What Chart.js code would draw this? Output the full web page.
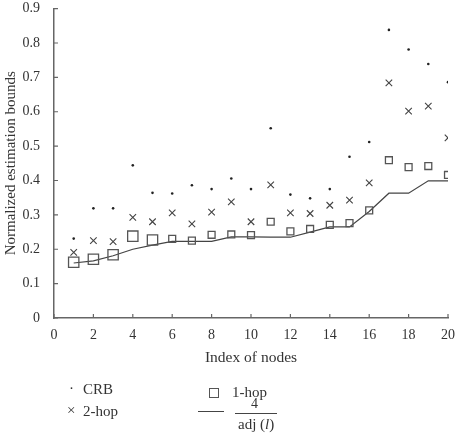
<!DOCTYPE html>
<html><head><meta charset="utf-8">
<script src="https://cdn.jsdelivr.net/npm/chart.js@4/dist/chart.umd.min.js"></script>
<style>
html,body{margin:0;padding:0;background:#fff;}
#wrap{position:relative;width:465px;height:434px;font-family:"Liberation Serif","DejaVu Serif",serif;color:#333;}
canvas{position:absolute;left:0;top:0;}
.lg{position:absolute;font-size:15px;line-height:16px;white-space:nowrap;}
</style></head>
<body><div id="wrap"><canvas id="c" width="465" height="434"></canvas>
<div class="lg" style="left:69px;top:380px;">·</div>
<div class="lg" style="left:83px;top:381px;">CRB</div>
<div class="lg" style="left:67px;top:402px;">×</div>
<div class="lg" style="left:83px;top:403px;">2-hop</div>
<div style="position:absolute;left:209px;top:388px;width:8px;height:8px;border:1.3px solid #555;"></div>
<div class="lg" style="left:232px;top:384px;">1-hop</div>
<div style="position:absolute;left:198px;top:411px;width:26px;height:0;border-top:1.2px solid #444;"></div>
<div class="lg" style="left:251px;top:396px;font-size:14px;">4</div>
<div style="position:absolute;left:235px;top:413px;width:42px;height:0;border-top:1px solid #444;"></div>
<div class="lg" style="left:238px;top:416px;">adj (<i>l</i>)</div>
</div>
<script>
const nodes = [1,2,3,4,5,6,7,8,9,10,11,12,13,14,15,16,17,18,19,20];
const crb = [0.231,0.319,0.319,0.444,0.364,0.362,0.386,0.375,0.406,0.375,0.552,0.359,0.348,0.375,0.469,0.512,0.838,0.781,0.739,0.686];
const hop2 = [0.191,0.225,0.222,0.293,0.280,0.306,0.274,0.308,0.338,0.280,0.387,0.306,0.304,0.328,0.343,0.393,0.684,0.602,0.616,0.524];
const hop1 = [0.162,0.171,0.184,0.238,0.227,0.230,0.225,0.242,0.243,0.241,0.280,0.252,0.259,0.271,0.276,0.313,0.459,0.439,0.442,0.416];
const adjBound = [0.160,0.166,0.181,0.200,0.212,0.223,0.223,0.223,0.236,0.236,0.235,0.235,0.250,0.265,0.265,0.310,0.363,0.363,0.399,0.399];
const xTicks = [0,2,4,6,8,10,12,14,16,18,20];
const yTicks = [0,0.1,0.2,0.3,0.4,0.5,0.6,0.7,0.8,0.9];

const pts = arr => nodes.map((n,i)=>({x:n,y:arr[i]}));
const axisColor = '#666';
const fontFam = '"Liberation Serif","DejaVu Serif",serif';

const inwardTicks = {
  id:'inwardTicks',
  afterDraw(chart){
    const {ctx, chartArea:a, scales:{x,y}} = chart;
    ctx.save();
    ctx.strokeStyle = axisColor; ctx.lineWidth = 1.2;
    ctx.beginPath();
    xTicks.forEach(v=>{const px=x.getPixelForValue(v); ctx.moveTo(px,a.bottom); ctx.lineTo(px,a.bottom-4);});
    yTicks.forEach(v=>{const py=y.getPixelForValue(v); ctx.moveTo(a.left,py); ctx.lineTo(a.left+4,py);});
    ctx.stroke();
    ctx.restore();
  }
};

new Chart(document.getElementById('c'), {
  type:'scatter',
  data:{datasets:[
    {label:'4/adj(l)', type:'line', data:pts(adjBound), borderColor:'#444', borderWidth:1.2, pointRadius:0, fill:false, tension:0, order:4},
    {label:'1-hop', data:pts(hop1), pointStyle:'rect', pointRadius:[7.3,7.3,7.3,7.3,7.3,4.9,4.9,4.9,4.9,4.9,4.9,4.9,4.9,4.9,4.9,4.9,4.9,4.9,4.9,4.9], borderColor:'#555', borderWidth:1.3, backgroundColor:'rgba(255,255,255,0)', order:3},
    {label:'2-hop', data:pts(hop2), pointStyle:'crossRot', pointRadius:4.6, borderColor:'#444', borderWidth:1.1, order:2},
    {label:'CRB', data:pts(crb), pointStyle:'circle', pointRadius:1.3, borderWidth:0, backgroundColor:'#222', order:1}
  ]},
  options:{
    animation:false, responsive:false,
    layout:{padding:{top:5,right:17,bottom:67,left:0}},
    plugins:{legend:{display:false}, tooltip:{enabled:false}},
    scales:{
      x:{type:'linear', min:0, max:20,
        afterBuildTicks(s){s.ticks = xTicks.map(v=>({value:v}));},
        afterFit(s){s.height=49; s.paddingRight=0; s.paddingLeft=0;},
        grid:{display:false}, border:{display:true,color:axisColor,width:1.5},
        ticks:{padding:1, color:'#333', font:{family:fontFam,size:14}, maxRotation:0},
        title:{display:true, text:'Index of nodes', color:'#333', font:{family:fontFam,size:15.5}, padding:{top:4,bottom:0}}
      },
      y:{type:'linear', min:0, max:0.9,
        afterBuildTicks(s){s.ticks = yTicks.map(v=>({value:v}));},
        afterFit(s){s.width=54; s.paddingTop=0; s.paddingBottom=0;},
        grid:{display:false}, border:{display:true,color:axisColor,width:1.5},
        ticks:{padding:6, color:'#333', font:{family:fontFam,size:14}, callback:v=>String(Math.round(v*10)/10)},
        title:{display:true, text:'Normalized estimation bounds', color:'#333', font:{family:fontFam,size:15}, padding:{top:2,bottom:0}}
      }
    }
  },
  plugins:[inwardTicks]
});
</script></body></html>
